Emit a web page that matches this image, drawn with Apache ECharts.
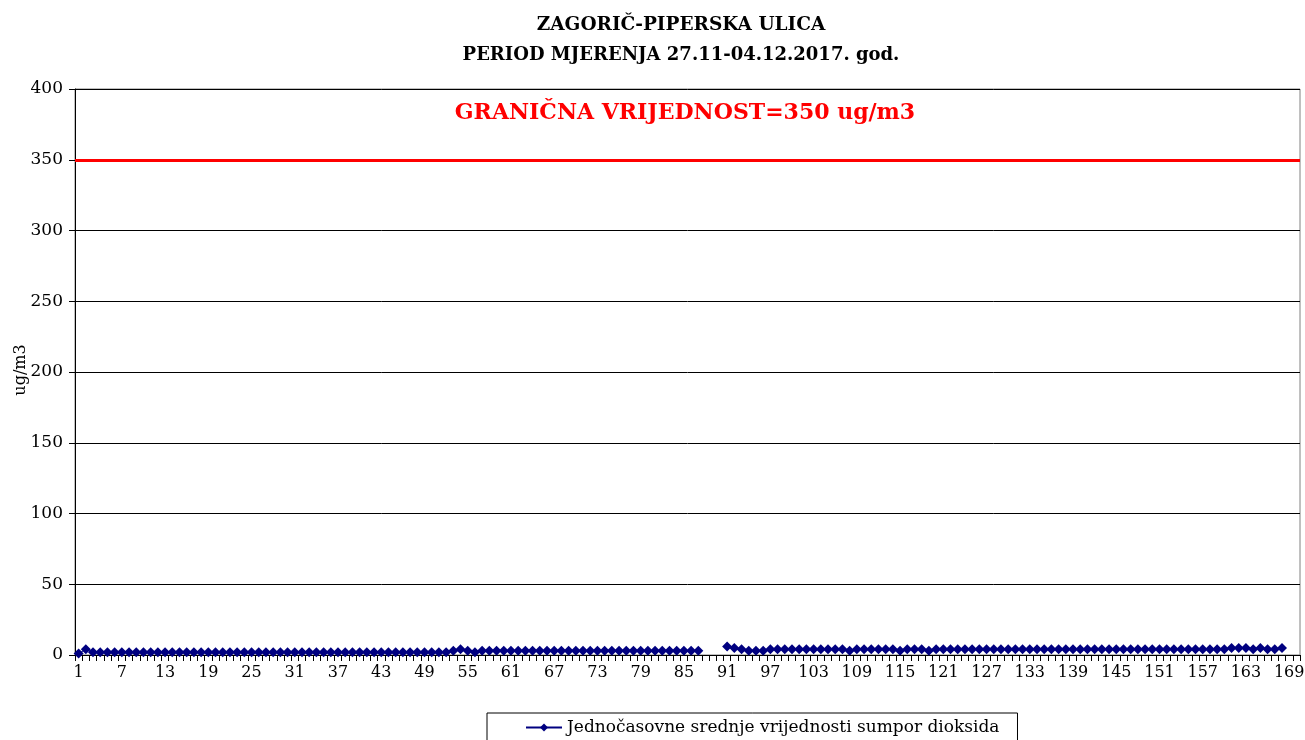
<!DOCTYPE html>
<html>
<head>
<meta charset="utf-8">
<script src="https://cdn.jsdelivr.net/npm/echarts@6/dist/echarts.min.js"></script>
<style>html,body{margin:0;padding:0;background:#fff}#c{width:1305px;height:740px}</style>
</head>
<body>
<div id="c"></div>
<script>
const titleLine1 = 'ZAGORIČ-PIPERSKA ULICA';
const titleLine2 = 'PERIOD MJERENJA 27.11-04.12.2017. god.';
const limitLabel = 'GRANIČNA VRIJEDNOST=350 ug/m3';
const limitValue = 350;
const yAxisName = 'ug/m3';
const seriesName = 'Jednočasovne srednje vrijednosti sumpor dioksida';
const yTicks = [0, 50, 100, 150, 200, 250, 300, 350, 400];

// hours 1..170
const categories = Array.from({length: 170}, (_, i) => String(i + 1));

// hours 1..87
const valuesPart1 = [1,4,2,2,2,2,2,2,2,2, 2,2,2,2,2,2,2,2,2,2, 2,2,2,2,2,2,2,2,2,2, 2,2,2,2,2,2,2,2,2,2,
  2,2,2,2,2,2,2,2,2,2, 2,2,3,4,3,2,3,3,3,3, 3,3,3,3,3,3,3,3,3,3, 3,3,3,3,3,3,3,3,3,3, 3,3,3,3,3,3,3];
// hours 88..90 missing
const valuesGap = [null, null, null];
// hours 91..168
const valuesPart2 = [6,5,4,3,3,3,4,4,4,4, 4,4,4,4,4,4,4,3,4,4, 4,4,4,4,3,4,4,4,3,4, 4,4,4,4,4,4,4,4,4,4,
  4,4,4,4,4,4,4,4,4,4, 4,4,4,4,4,4,4,4,4,4, 4,4,4,4,4,4,4,4,4,4, 5,5,5,4,5,4,4,5];
// hours 169..170 missing
const valuesEnd = [null, null];

const values = valuesPart1.concat(valuesGap, valuesPart2, valuesEnd);

const serif = '"DejaVu Serif", "Liberation Serif", serif';
const chart = echarts.init(document.getElementById('c'));
chart.setOption({
  animation: false,
  backgroundColor: '#fff',
  title: [
    {text: titleLine1, left: 676, top: 11, textAlign: 'center', textStyle: {fontFamily: serif, fontSize: 18.5, fontWeight: 'bold', color: '#000'}},
    {text: titleLine2, left: 676, top: 41, textAlign: 'center', textStyle: {fontFamily: serif, fontSize: 18, fontWeight: 'bold', color: '#000'}},
    {text: limitLabel, left: 680, top: 97, textAlign: 'center', textStyle: {fontFamily: serif, fontSize: 22, fontWeight: 'bold', color: '#ff0000'}}
  ],
  graphic: [{
    type: 'text', x: 21, y: 370, rotation: Math.PI / 2,
    style: {text: yAxisName, font: '16px ' + serif, fill: '#000', align: 'center', verticalAlign: 'middle'}
  }],
  grid: {left: 75, right: 5, top: 89, bottom: 85, show: true, borderColor: '#808080', borderWidth: 1, containLabel: false, outerBoundsMode: 'none'},
  legend: {
    bottom: -12, left: 487, itemGap: 0,
    data: [seriesName],
    borderColor: '#000', borderWidth: 1, padding: [6, 18, 16, 38],
    itemWidth: 36, itemHeight: 10,
    textStyle: {fontFamily: serif, fontSize: 17, color: '#000'}
  },
  xAxis: {
    type: 'category', data: categories, boundaryGap: true,
    axisLine: {lineStyle: {color: '#000', width: 1}},
    axisTick: {show: true, interval: 0, length: 6, lineStyle: {color: '#000'}},
    axisLabel: {interval: 5, color: '#000', fontFamily: serif, fontSize: 16, margin: 10},
    splitLine: {show: false}
  },
  yAxis: {
    type: 'value', min: yTicks[0], max: yTicks[yTicks.length - 1], interval: 50,
    axisLine: {show: true, lineStyle: {color: '#000', width: 1}},
    axisTick: {show: true, length: 6, lineStyle: {color: '#000'}},
    axisLabel: {color: '#000', fontFamily: serif, fontSize: 17, margin: 12},
    splitLine: {show: true, lineStyle: {color: '#000', width: 1}}
  },
  series: [{
    name: seriesName, type: 'line', data: values, connectNulls: false,
    symbol: 'diamond', symbolSize: 10, showSymbol: true, showAllSymbol: true,
    itemStyle: {color: '#000080'},
    lineStyle: {color: '#000080', width: 1},
    markLine: {
      silent: true, symbol: ['none', 'none'],
      label: {show: false},
      lineStyle: {color: '#ff0000', width: 3, type: 'solid'},
      data: [{yAxis: limitValue}]
    }
  }]
});
</script>
</body>
</html>
